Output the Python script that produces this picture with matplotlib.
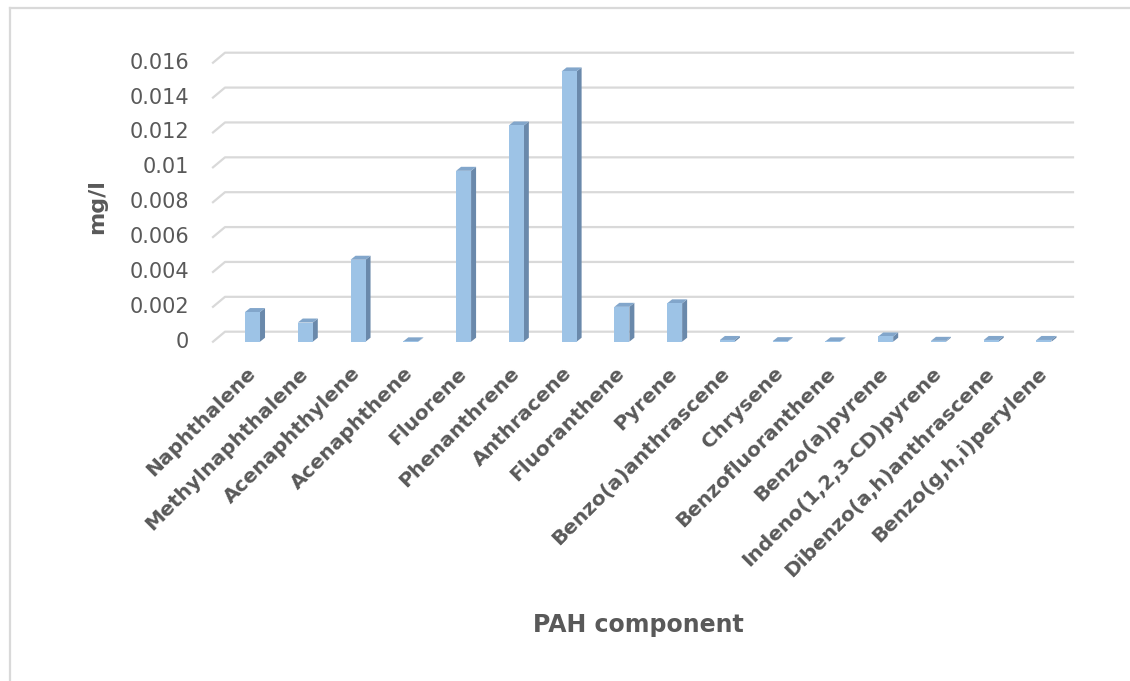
import matplotlib.pyplot as plt
from matplotlib.patches import Polygon
from matplotlib.lines import Line2D

# PAH concentrations (mg/l)
components = ['Naphthalene', 'Methylnaphthalene', 'Acenaphthylene', 'Acenaphthene',
              'Fluorene', 'Phenanthrene', 'Anthracene', 'Fluoranthene', 'Pyrene',
              'Benzo(a)anthrascene', 'Chrysene', 'Benzofluoranthene', 'Benzo(a)pyrene',
              'Indeno(1,2,3-CD)pyrene', 'Dibenzo(a,h)anthrascene', 'Benzo(g,h,i)perylene']
conc = [0.0017, 0.0011, 0.0047, 0.00002,
        0.0098, 0.0124, 0.0155, 0.0020, 0.0022,
        0.0001, 0.00003, 0.00002, 0.0003,
        0.00005, 0.0001, 0.0001]
yticks = [0, 0.002, 0.004, 0.006, 0.008, 0.01, 0.012, 0.014, 0.016]
ytick_labels = ['0', '0.002', '0.004', '0.006', '0.008', '0.01', '0.012', '0.014', '0.016']

FRONT = '#9DC3E6'
SIDE = '#6A89AB'
TOP = '#82A6CB'
GRID = '#D9D9D9'
TEXT = '#595959'

W, H = 1130, 681
fig = plt.figure(figsize=(W / 100, H / 100), dpi=100)
ax = fig.add_axes([213 / W, 1 - 341.7 / H, 860 / W, 279 / H])
xmin, xmax = -0.749, 15.55
ax.set_xlim(xmin, xmax)
ax.set_ylim(0, 0.016)
ax.axis('off')

# pixel -> data unit factors
px_x = (xmax - xmin) / 860
px_y = 0.016 / 279

# back wall gridlines with the little perspective kink on the left
wall_dx, wall_dy = 12 * px_x, 10 * px_y
for t, lab in zip(yticks, ytick_labels):
    ax.add_line(Line2D([xmin, xmin + wall_dx, xmax], [t, t + wall_dy, t + wall_dy],
                       color=GRID, lw=1.6, clip_on=False, zorder=1))
    ax.text(xmin - 24 * px_x, t, lab, ha='right', va='center',
            fontsize=15, color=TEXT)

# 3d-looking columns: front face + side + top
bw = 15 * px_x
dx, dy = 5 * px_x, 4 * px_y
for i, v in enumerate(conc):
    l, r = i - bw / 2, i + bw / 2
    ax.add_patch(Polygon([(r, 0), (r, v), (r + dx, v + dy), (r + dx, dy)],
                         closed=True, facecolor=SIDE, edgecolor='none', zorder=2, clip_on=False))
    ax.add_patch(Polygon([(l, v), (r, v), (r + dx, v + dy), (l + dx, v + dy)],
                         closed=True, facecolor=TOP, edgecolor='none', zorder=2, clip_on=False))
    ax.bar(i, v, width=bw, color=FRONT, zorder=3, clip_on=False)

    ax.annotate(components[i], xy=(i, 0), xytext=(-7 * 0.72, -22 * 0.72),
                textcoords='offset points', ha='right', va='top',
                rotation=45, rotation_mode='anchor',
                fontsize=14.5, fontweight='bold', color=TEXT)

fig.text(638 / W, 1 - 625 / H, 'PAH component', ha='center', va='center',
         fontsize=17, fontweight='bold', color=TEXT)
fig.text(97 / W, 1 - 207 / H, 'mg/l', ha='center', va='center', rotation=90,
         fontsize=16, fontweight='bold', color=TEXT)

# chart area border (left and top edges)
fig.add_artist(Line2D([10 / W, 10 / W], [0, 1 - 8 / H], color=GRID, lw=1.6))
fig.add_artist(Line2D([10 / W, 1], [1 - 8 / H, 1 - 8 / H], color=GRID, lw=1.6))

fig.savefig('out.png', dpi=100)
